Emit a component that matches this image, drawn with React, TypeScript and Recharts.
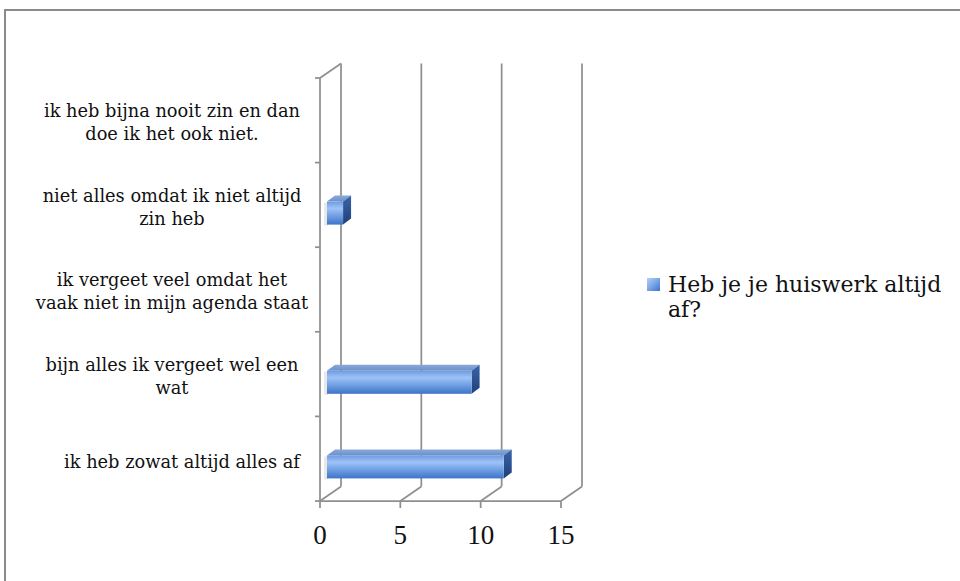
import React from 'react';
import { BarChart, Bar, XAxis, YAxis, CartesianGrid, Legend } from 'recharts';

const categories = [
  'ik heb bijna nooit zin en dan\ndoe ik het ook niet.',
  'niet alles omdat ik niet altijd\nzin heb',
  'ik vergeet veel omdat het\nvaak niet in mijn agenda staat',
  'bijn alles ik vergeet wel een\nwat',
  'ik heb zowat altijd alles af',
];
const values = [0, 1, 0, 9, 11];
const xTicks = [0, 5, 10, 15];
const seriesName = 'Heb je je huiswerk altijd af?';

const data = categories.map((c, i) => ({ name: c, value: values[i] }));

const W = 960;
const H = 581;
const MARGIN = { top: 78, right: 399, bottom: 0, left: 0 };
const Y_AXIS_W = 320;
const X_AXIS_H = 80;
const FONT = '"DejaVu Serif", serif';
const NUM_FONT = '"Liberation Serif", serif';
const GRID = '#8f8f8f';
const DX = 21;
const DY = -14.5;

const CatTick = (props: any) => {
  const { x, y, payload } = props;
  const lines = String(payload.value).split('\n');
  const lh = 23;
  const single = lines.length === 1;
  const cx = x - 141 + (single ? 10 : 0);
  const shift = single ? 3 : 2;
  const y0 = y + shift - ((lines.length - 1) * lh) / 2;
  return (
    <text x={cx} y={y0} textAnchor="middle" fontFamily={FONT} fontSize={17.8} fill="#111">
      {lines.map((l, i) => (
        <tspan key={i} x={cx} dy={i === 0 ? '0.35em' : lh}>
          {l}
        </tspan>
      ))}
    </text>
  );
};

const Bar3D = (props: any) => {
  const { x, y, width, height, value } = props;
  if (!value || width <= 0) return null;
  const fx = x + 7;
  const fy = y + 8;
  const w = width;
  const h = height;
  const dx = 8;
  const dy = -6;
  return (
    <g>
      <rect x={fx - 3} y={fy + 1} width={4} height={h} fill="#e4e4e4" opacity={0.8} />
      <polygon
        points={`${fx},${fy} ${fx + dx},${fy + dy} ${fx + w + dx},${fy + dy} ${fx + w},${fy}`}
        fill="url(#topGrad)"
      />
      <polygon
        points={`${fx + w},${fy} ${fx + w + dx},${fy + dy} ${fx + w + dx},${fy + h + dy} ${fx + w},${fy + h}`}
        fill="url(#sideGrad)"
      />
      <rect x={fx} y={fy} width={w} height={h} fill="url(#frontGrad)" />
    </g>
  );
};

const renderVertical = (p: any) => {
  const { x1, y1, y2, index } = p;
  return (
    <g key={`v-${index}-${x1}`}>
      <line x1={x1 + DX} y1={y1 + DY} x2={x1 + DX} y2={y2 + DY} stroke={GRID} strokeWidth={1.75} />
      <line x1={x1} y1={y2} x2={x1 + DX} y2={y2 + DY} stroke={GRID} strokeWidth={1.75} />
      {index === 0 ? (
        <line x1={x1} y1={y1} x2={x1 + DX} y2={y1 + DY} stroke={GRID} strokeWidth={1.75} />
      ) : null}
    </g>
  );
};

const renderHorizontal = (p: any) => {
  const { x1, y1, index } = p;
  return <line key={`h-${index}-${y1}`} x1={x1 - 5} y1={y1} x2={x1} y2={y1} stroke={GRID} strokeWidth={1.75} />;
};

const LegendContent = () => (
  <div
    style={{
      display: 'flex',
      alignItems: 'flex-start',
      fontFamily: FONT,
      fontSize: 22,
      lineHeight: '25px',
      color: '#111',
    }}
  >
    <div
      style={{
        width: 13,
        height: 13,
        marginTop: 6,
        marginRight: 8,
        flex: 'none',
        background: 'linear-gradient(135deg, #b5d0f7 0%, #7aa6e8 50%, #3d72c6 100%)',
      }}
    />
    <div style={{ width: 290 }}>{seriesName}</div>
  </div>
);

export default function App() {
  const plotH = H - MARGIN.top - X_AXIS_H;
  const band = plotH / categories.length;
  return (
    <div style={{ position: 'absolute', left: 0, top: 0, width: W, height: H, overflow: 'hidden', background: '#fff' }}>
      <div
        style={{
          position: 'absolute',
          left: 4,
          top: 9,
          width: 1100,
          height: 1100,
          borderTop: '2px solid #8a8a8a',
          borderLeft: '2px solid #8a8a8a',
        }}
      />
      <div style={{ position: 'absolute', left: 0, top: 0 }}>
        <BarChart width={W} height={H} data={data} layout="vertical" margin={MARGIN} barSize={23}>
          <defs>
            <linearGradient id="frontGrad" x1="0" y1="0" x2="0" y2="1">
              <stop offset="0%" stopColor="#6e9be0" />
              <stop offset="30%" stopColor="#9dc3f8" />
              <stop offset="100%" stopColor="#3c74c9" />
            </linearGradient>
            <linearGradient id="topGrad" x1="0" y1="0" x2="0" y2="1">
              <stop offset="0%" stopColor="#8aa9d8" />
              <stop offset="100%" stopColor="#6c90cc" />
            </linearGradient>
            <linearGradient id="sideGrad" x1="0" y1="0" x2="0" y2="1">
              <stop offset="0%" stopColor="#3a64a8" />
              <stop offset="100%" stopColor="#1f4079" />
            </linearGradient>
          </defs>
          <CartesianGrid
            horizontal={renderHorizontal}
            vertical={renderVertical}
            horizontalCoordinatesGenerator={() =>
              Array.from({ length: categories.length + 1 }, (_, i) => MARGIN.top + i * band)
            }
          />
          <XAxis
            type="number"
            domain={[0, 15]}
            ticks={xTicks}
            height={X_AXIS_H}
            tickSize={7}
            tickMargin={17}
            axisLine={{ stroke: GRID, strokeWidth: 1.75 }}
            tickLine={{ stroke: GRID, strokeWidth: 1.75 }}
            tick={{ fontFamily: NUM_FONT, fontSize: 27, fill: '#111' }}
          />
          <YAxis
            type="category"
            dataKey="name"
            width={Y_AXIS_W}
            tickSize={5}
            tickLine={false}
            axisLine={{ stroke: GRID, strokeWidth: 1.75 }}
            tick={<CatTick />}
            interval={0}
          />
          <Legend
            layout="horizontal"
            align="center"
            verticalAlign="middle"
            content={<LegendContent />}
            wrapperStyle={{ left: 647, top: 272, width: 310, bottom: 'auto', right: 'auto' }}
          />
          <Bar dataKey="value" name={seriesName} shape={<Bar3D />} isAnimationActive={false} />
        </BarChart>
      </div>
    </div>
  );
}
